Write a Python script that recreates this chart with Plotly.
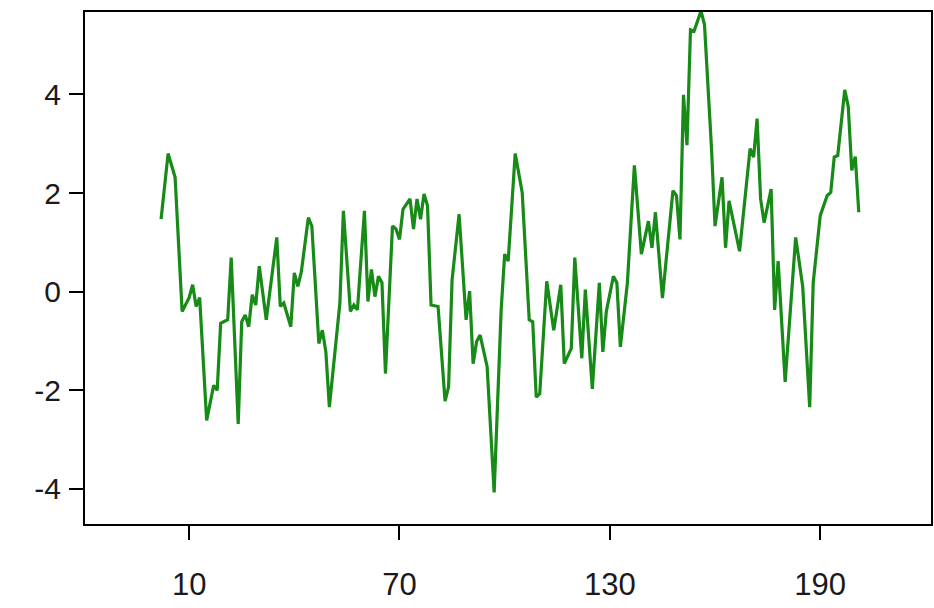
import plotly.graph_objects as go

# index values (x) and series values (y)
x_idx = [2, 4, 6, 8, 10, 11, 12, 13, 15, 17, 18, 19, 21, 22, 24, 25, 26, 27, 28, 29,
         30, 32, 35, 36, 37, 39, 40, 41, 42, 44, 45, 47, 48, 49, 50, 53, 54, 56, 57, 58,
         60, 61, 62, 63, 64, 65, 66, 68, 69, 70, 71, 73, 74, 75, 76, 77, 78, 79, 81, 83,
         84, 85, 87, 89, 90, 91, 92, 93, 95, 97, 99, 100, 101, 103, 105, 107, 108, 109, 110, 112,
         114, 116, 117, 119, 120, 122, 123, 125, 127, 128, 129, 131, 132, 133, 135, 137, 139, 141, 142, 143,
         145, 148, 149, 150, 151, 152, 153, 154, 156, 157, 159, 160, 162, 163, 164, 167, 170, 171, 172, 173,
         174, 176, 177, 178, 180, 183, 185, 187, 188, 190, 192, 193, 194, 195, 197, 198, 199, 200, 201]
y_val = [1.47, 2.80, 2.32, -0.40, -0.12, 0.14, -0.30, -0.12, -2.61, -1.90, -2.00, -0.64, -0.57, 0.69, -2.68, -0.61, -0.47, -0.71, -0.06, -0.27,
         0.52, -0.57, 1.10, -0.30, -0.23, -0.71, 0.38, 0.11, 0.40, 1.50, 1.33, -1.05, -0.78, -1.22, -2.34, -0.23, 1.64, -0.40, -0.27, -0.37,
         1.64, -0.20, 0.45, -0.10, 0.31, 0.18, -1.66, 1.33, 1.27, 1.06, 1.67, 1.88, 1.27, 1.88, 1.47, 1.98, 1.74, -0.27, -0.30, -2.22,
         -1.93, 0.24, 1.57, -0.57, 0.01, -1.46, -1.01, -0.88, -1.52, -4.07, -0.37, 0.76, 0.62, 2.80, 2.01, -0.57, -0.61, -2.14, -2.07, 0.21,
         -0.78, 0.14, -1.46, -1.15, 0.69, -1.35, 0.04, -1.97, 0.18, -1.22, -0.40, 0.31, 0.18, -1.12, 0.18, 2.56, 0.76, 1.43, 0.89, 1.61,
         -0.13, 2.05, 1.95, 1.06, 3.99, 2.97, 5.31, 5.28, 5.69, 5.41, 2.90, 1.33, 2.32, 0.89, 1.84, 0.82, 2.90, 2.73, 3.51, 1.88,
         1.40, 2.08, -0.37, 0.62, -1.83, 1.10, 0.11, -2.34, 0.18, 1.54, 1.95, 2.01, 2.73, 2.76, 4.09, 3.75, 2.46, 2.74, 1.61]

x_ticks = [10, 70, 130, 190]
y_ticks = [-4, -2, 0, 2, 4]

fig = go.Figure()
fig.add_trace(go.Scatter(x=x_idx, y=y_val, mode="lines",
                         line=dict(color="#178a17", width=3.2), showlegend=False))

axis_common = dict(showline=True, linecolor="black", linewidth=2, mirror=True,
                   showgrid=False, zeroline=False, ticks="outside", ticklen=14,
                   tickwidth=1.5, tickcolor="black", automargin=False)

fig.update_layout(
    width=934, height=608,
    margin=dict(l=85, r=3, t=12, b=84),
    paper_bgcolor="white", plot_bgcolor="white",
    font=dict(family="Liberation Sans, Arial, sans-serif", color="#1a1a1a"),
    xaxis=dict(range=[-19.7, 221.6], tickvals=x_ticks, ticktext=[str(v) for v in x_ticks],
               tickfont=dict(size=31), ticklabelstandoff=18, **axis_common),
    yaxis=dict(range=[-4.71, 5.67], tickvals=y_ticks, ticktext=[str(v) for v in y_ticks],
               tickfont=dict(size=30), ticklabelstandoff=2, **axis_common),
)

# remove the default page margin so the figure fills the window exactly
fig.write_html("out.html",
               config={"displayModeBar": False},
               post_script="document.body.style.margin='0';document.body.style.overflow='hidden';")
